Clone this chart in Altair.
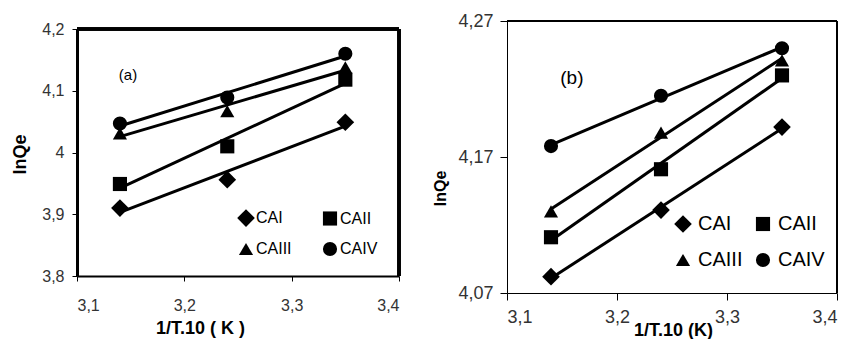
import altair as alt
import pandas as pd

# ---------------- data ----------------
x_vals = [3.14, 3.24, 3.35]
series = ["CAI", "CAII", "CAIII", "CAIV"]

a_CAI = [3.910, 3.956, 4.049]
a_CAII = [3.949, 4.010, 4.118]
a_CAIII = [4.031, 4.067, 4.138]
a_CAIV = [4.047, 4.089, 4.160]

b_CAI = [4.082, 4.131, 4.192]
b_CAII = [4.111, 4.161, 4.230]
b_CAIII = [4.130, 4.188, 4.241]
b_CAIV = [4.178, 4.215, 4.250]

x_ticks = [3.1, 3.2, 3.3, 3.4]
a_y_ticks = [3.8, 3.9, 4.0, 4.1, 4.2]
b_y_ticks = [4.07, 4.17, 4.27]

panel_a_label = {"x": [3.1475], "y": [4.125], "t": ["(a)"]}
panel_b_label = {"x": [3.159], "y": [4.228], "t": ["(b)"]}

FONT = "Liberation Sans"
shapes = ["M-1.25,0L0,-1.25L1.25,0L0,1.25Z", "square", "triangle-up", "circle"]


def long_df(vals):
    rows = []
    for s, ys in zip(series, vals):
        for x, y in zip(x_vals, ys):
            rows.append({"x": x, "y": y, "s": s})
    return pd.DataFrame(rows)


df_a = long_df([a_CAI, a_CAII, a_CAIII, a_CAIV])
df_b = long_df([b_CAI, b_CAII, b_CAIII, b_CAIV])


def panel(df, lab, xdom, ydom, yrange, height, width, yticks, yfmt, xtitle,
          xt_x, xt_y, yt_x, yt_y, dom_w_left, dom_w_bottom, frame_w,
          tick_size, lab_size, lab_pad_x, lab_pad_y, leg, lab_font,
          xt_size, yt_size):
    xs = alt.Scale(domain=xdom, nice=False, zero=False)
    ys = alt.Scale(domain=ydom, nice=False, zero=False, range=yrange)
    xaxis = alt.Axis(values=x_ticks, labelExpr="replace(format(datum.value,'.1f'),'.',',')",
                     title=xtitle, grid=False, domainColor="black", domainWidth=dom_w_bottom,
                     tickColor="black", tickSize=tick_size, labelFontSize=lab_size,
                     labelColor="#333", labelFont=FONT, labelPadding=lab_pad_x,
                     titleFont=FONT, titleFontSize=xt_size, titleFontWeight="bold",
                     titleColor="black", titleX=xt_x, titleY=xt_y, titleBaseline="middle",
                     labelOverlap=False)
    yaxis = alt.Axis(values=yticks, labelExpr=yfmt, title="lnQe", grid=False,
                     domainColor="black", domainWidth=dom_w_left, tickColor="black",
                     tickSize=tick_size, labelFontSize=lab_size, labelColor="#333",
                     labelFont=FONT, labelPadding=lab_pad_y, titleFont=FONT,
                     titleFontSize=yt_size, titleFontWeight="bold", titleColor="black",
                     titleX=yt_x, titleY=yt_y, titleBaseline="middle", labelOverlap=False)

    base = alt.Chart(df)
    lines = base.transform_regression("x", "y", groupby=["s"]).mark_line(
        color="black", strokeWidth=3).encode(
        x=alt.X("x:Q", scale=xs, axis=xaxis),
        y=alt.Y("y:Q", scale=ys, axis=yaxis),
        detail="s:N")
    pts = base.mark_point(filled=True, size=200, opacity=1, color="black").encode(
        x=alt.X("x:Q", scale=xs),
        y=alt.Y("y:Q", scale=ys),
        shape=alt.Shape("s:N", scale=alt.Scale(domain=series, range=shapes), legend=leg))
    top = alt.Chart(df).mark_rule(color="black", strokeWidth=frame_w).encode(
        x=alt.datum(xdom[0]), x2=alt.datum(xdom[1]), y=alt.datum(ydom[1]))
    right = alt.Chart(df).mark_rule(color="black", strokeWidth=frame_w).encode(
        x=alt.datum(xdom[1]), y=alt.datum(ydom[0]), y2=alt.datum(ydom[1]))
    txt = alt.Chart(pd.DataFrame(lab)).mark_text(font=FONT, fontSize=lab_font,
                                                  color="black").encode(
        x="x:Q", y="y:Q", text="t:N")
    return alt.layer(top, right, lines, pts, txt).properties(width=width, height=height)


leg_a = alt.Legend(orient="none", legendX=161, legendY=189, columns=2, direction="horizontal",
                   title=None, labelFontSize=16, labelFont=FONT, labelColor="black",
                   symbolSize=200, symbolFillColor="black", symbolStrokeColor="black",
                   symbolStrokeWidth=0, columnPadding=30, rowPadding=14, labelOffset=2,
                   padding=0)
leg_b = alt.Legend(orient="none", legendX=166, legendY=193, columns=2, direction="horizontal",
                   title=None, labelFontSize=20, labelFont=FONT, labelColor="black",
                   symbolSize=200, symbolFillColor="black", symbolStrokeColor="black",
                   symbolStrokeWidth=0, columnPadding=10, rowPadding=16, labelOffset=5,
                   padding=0)

pa = panel(df_a, panel_a_label, [3.1, 3.4], [3.8, 4.2], [255, 8], 255, 322, a_y_ticks,
           "replace(format(datum.value,'~g'),'.',',')", "1/T.10 ( K )",
           123, 52, -57, 133, 3, 2, 2.5, 5, 16, 16, 8, leg_a, 15, 18, 18)
pb = panel(df_b, panel_b_label, [3.1, 3.4], [4.07, 4.27], [272, 0], 272, 330, b_y_ticks,
           "replace(format(datum.value,'.2f'),'.',',')", "1/T.10 (K)",
           166, 37, -67, 167, 1, 1, 1, 7, 18, 8, 7, leg_b, 19, 18, 16)

chart = alt.hconcat(pa, pb, spacing=108, bounds="flush").resolve_scale(
    shape="independent", x="independent", y="independent").resolve_legend(
    shape="independent").properties(
    padding={"left": 11, "top": 12, "right": 5, "bottom": 0},
    background="white").configure_view(strokeWidth=0)

chart.save("out.html", embed_options={"renderer": "svg", "actions": False})
